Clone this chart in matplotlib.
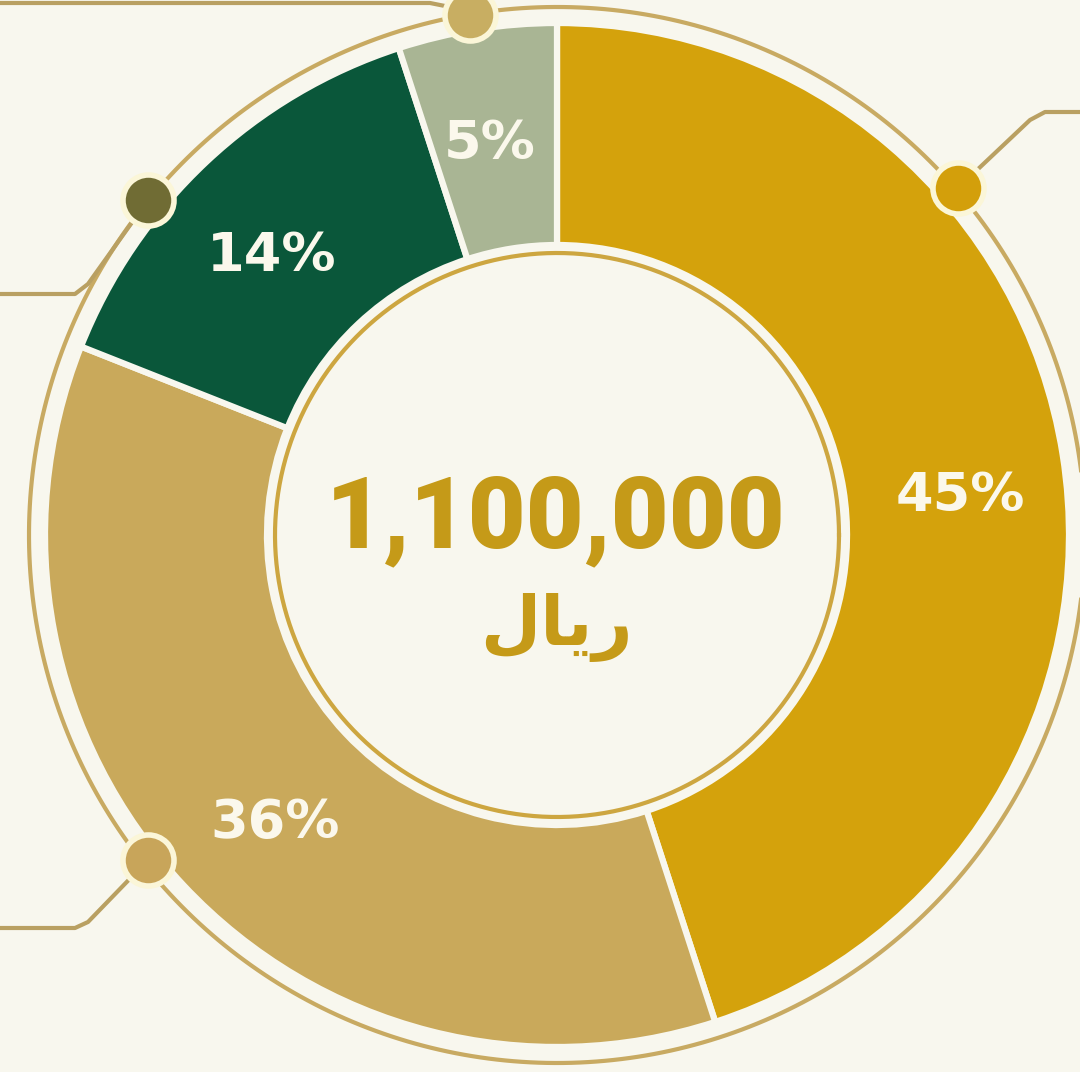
# Donut chart: split of 1,100,000 riyal into four shares
import numpy as np
from matplotlib import pyplot as plt

shares = [45, 36, 14, 5]
share_labels = ["45%", "36%", "14%", "5%"]
share_colors = ["#D4A20C", "#C9A95B", "#0A573A", "#A9B594"]
dot_colors = ["#D39F0B", "#C8A55A", "#706C34", "#C8AE62"]
total_text = "1,100,000"
# "ريال" in presentation forms, visual order, since matplotlib does no shaping
currency_text = "\uFEDD\uFE8E\uFEF3\uFEAD"

bg = "#F8F7EE"
line_col = "#C8AA62"
cx, cy = 557, 537

fig = plt.figure(figsize=(10.8, 10.72), dpi=100, facecolor=bg)
ax = fig.add_axes([0, 0, 1, 1])
ax.set_facecolor(bg)

ax.pie(shares, colors=share_colors, startangle=90, counterclock=False,
       radius=512, center=(cx, cy),
       wedgeprops=dict(width=222, edgecolor=bg, linewidth=4.5))

ax.set_xlim(0, 1080)
ax.set_ylim(0, 1072)
ax.set_aspect("equal")
ax.axis("off")

# outer thin ring and ring round the hole
t = np.linspace(0, 2 * np.pi, 400)
ax.plot(cx + 528 * np.cos(t), cy + 528 * np.sin(t), color=line_col, lw=3, zorder=1)
ax.plot(cx + 282 * np.cos(t), cy + 282 * np.sin(t), color="#CDA640", lw=3, zorder=3)

# leader lines to the edge of the picture
leaders = [
    ([958, 1030, 1045, 1080], [884, 952, 960, 960]),
    ([148, 88, 75, 0], [212, 150, 144, 144]),
    ([148, 88, 75, 0], [872, 788, 778, 778]),
    ([470, 445, 430, 0], [1057, 1066, 1069, 1069]),
]
for xs, ys in leaders:
    ax.plot(xs, ys, color="#B9A062", lw=3, solid_joinstyle="round",
            solid_capstyle="round", zorder=2)

dot_pos = [(958, 884), (148, 212), (148, 872), (470, 1057)]
for (x, y), c in zip(dot_pos, dot_colors):
    ax.scatter([x], [y], s=1350, color=c, edgecolor="#FBF6D8", linewidth=4, zorder=5)

label_pos = [(960, 576), (275, 249), (272, 816), (490, 928)]
for (x, y), s in zip(label_pos, share_labels):
    ax.text(x, y, s, ha="center", va="center", fontsize=39, fontweight="bold",
            family="DejaVu Sans", color="#FBF8EC", zorder=6)

ax.text(556, 552, total_text, ha="center", va="center", fontsize=72,
        fontweight=900, family="Roboto", color="#C59A18", zorder=6)
ax.text(556, 444, currency_text, ha="center", va="center", fontsize=50,
        fontweight="bold", family=["DejaVu Sans"], color="#C59A18", zorder=6)

fig.savefig("out.png", dpi=100, facecolor=bg)
